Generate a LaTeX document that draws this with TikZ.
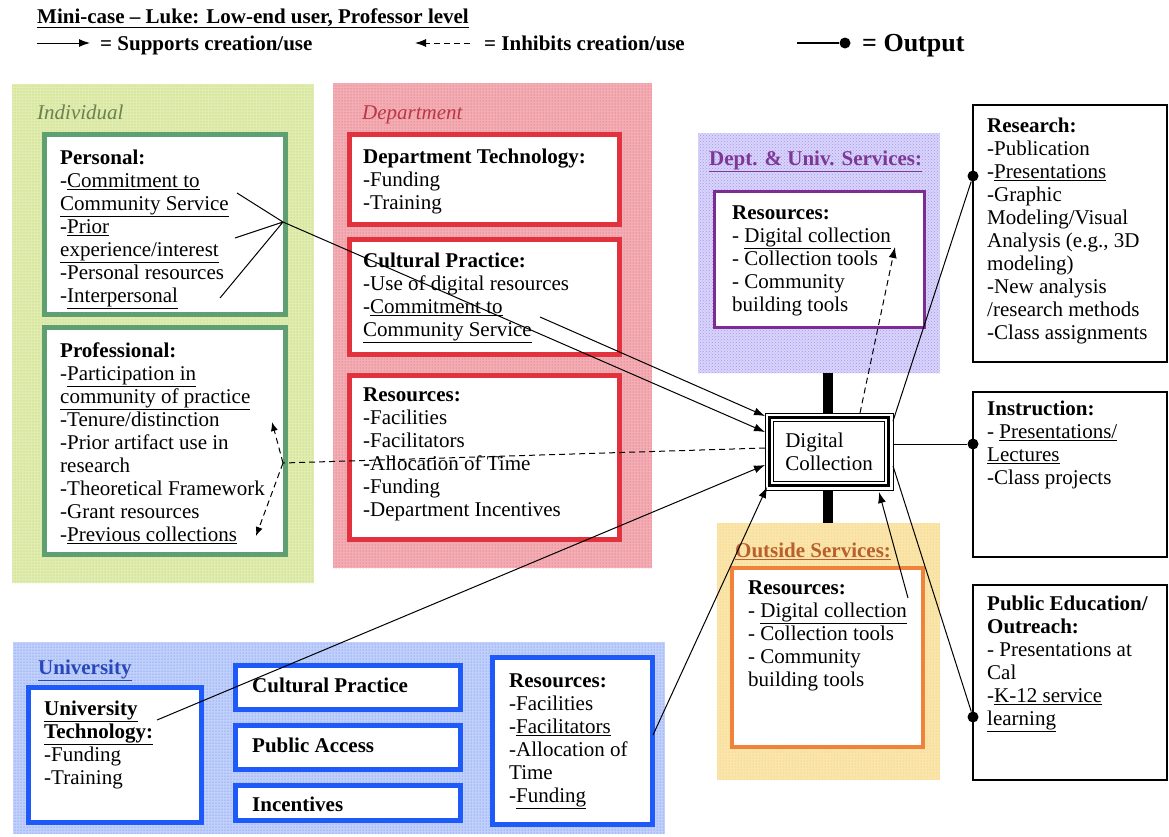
\documentclass[tikz,border=0pt]{standalone}
\usepackage{fontspec}
\setmainfont{Liberation Serif}
\usetikzlibrary{arrows.meta,patterns,calc}
\newcommand\myul[1]{\underline{#1}}
\newcommand\fl{\rule{0pt}{15pt}}
\definecolor{indbg}{RGB}{224,236,176}
\definecolor{inddot}{RGB}{175,205,80}
\definecolor{depbg}{RGB}{242,174,180}
\definecolor{depdot}{RGB}{228,80,92}
\definecolor{dubg}{RGB}{217,212,250}
\definecolor{dudot}{RGB}{165,150,240}
\definecolor{outbg}{RGB}{250,230,172}
\definecolor{outdot}{RGB}{245,195,80}
\definecolor{unibg}{RGB}{192,208,250}
\definecolor{unidot}{RGB}{80,125,240}
\definecolor{gline}{RGB}{95,160,115}
\definecolor{rline}{RGB}{225,50,62}
\definecolor{pline}{RGB}{125,45,145}
\definecolor{oline}{RGB}{240,130,60}
\definecolor{bline}{RGB}{30,90,250}
\definecolor{indlab}{RGB}{105,130,80}
\definecolor{deplab}{RGB}{185,55,70}
\definecolor{dulab}{RGB}{125,55,150}
\definecolor{outlab}{RGB}{185,95,45}
\definecolor{unilab}{RGB}{40,72,185}
\tikzset{
 region/.style={anchor=north west, inner sep=0pt, outer sep=0pt},
 bx/.style={draw, anchor=north west, inner sep=0pt, outer sep=0pt, fill=white},
 txt/.style={anchor=base west, align=left, inner sep=0pt, font=\fontsize{21}{23}\selectfont},
 mtxt/.style={anchor=north west, align=left, inner sep=0pt, font=\fontsize{21}{23}\selectfont},
 arr/.style={-{Latex[length=11pt,width=8pt]}, line width=1pt},
 inh/.style={dash pattern=on 6pt off 4pt, line width=1pt},
 smallarr/.style={-{Latex[length=9pt,width=7pt]}},
 outdot/.style={circle, fill=black, inner sep=0pt, minimum size=11pt},
}
\begin{document}
\begin{tikzpicture}[x=1pt,y=-1pt]
\useasboundingbox (0,0) rectangle (1169,836);
\fill[white] (0,0) rectangle (1169,836);

% ---------- header ----------
\node[txt] (title) at (37,23) {\myul{\textbf{Mini-case – Luke: Low-end user, Professor level}}};
\coordinate (la1) at (37,43); \coordinate (la2) at (90,43);
\draw[arr] (la1) -- (la2);
\node[txt] (lsup) at (100,50) {\textbf{= Supports creation/use}};
\coordinate (li1) at (470,43); \coordinate (li2) at (415,43);
\draw[inh,-{Latex[length=11pt,width=8pt]}] (li1) -- (li2);
\node[txt] (linh) at (484,50) {\textbf{= Inhibits creation/use}};
\coordinate (lo1) at (797,43);
\node[outdot] (lodot) at (845,43) {};
\draw[line width=1.2pt] (lo1) -- (lodot);
\node[txt, font=\fontsize{26}{28}\selectfont] (lout) at (862,51) {\textbf{= Output}};

% ---------- regions ----------
\node[region, fill=indbg, minimum width=302pt, minimum height=499pt] (indreg) at (12,84) {};
\fill[pattern=dots, pattern color=inddot] (indreg.north west) rectangle (indreg.south east);
\node[region, fill=depbg, minimum width=319pt, minimum height=485pt] (depreg) at (333,83) {};
\fill[pattern=dots, pattern color=depdot] (depreg.north west) rectangle (depreg.south east);
\node[region, fill=dubg, minimum width=242pt, minimum height=240pt] (dureg) at (698,133) {};
\fill[pattern=crosshatch dots, pattern color=dudot] (dureg.north west) rectangle (dureg.south east);
\node[region, fill=outbg, minimum width=223pt, minimum height=257pt] (outreg) at (717,523) {};
\fill[pattern=dots, pattern color=outdot] (outreg.north west) rectangle (outreg.south east);
\node[region, fill=unibg, minimum width=652pt, minimum height=192pt] (unireg) at (13,642) {};
\fill[pattern=dots, pattern color=unidot] (unireg.north west) rectangle (unireg.south east);

% region labels
\node[txt, text=indlab] (indlab) at (37,119) {\textit{Individual}};
\node[txt, text=deplab] (deplab) at (362,119) {\textit{Department}};
\node[txt, text=dulab] (dulab) at (709,165) {\myul{\textbf{Dept. \& Univ. Services:}}};
\node[txt, text=outlab] (outlab) at (735,557) {\myul{\textbf{Outside Services:}}};
\node[txt, text=unilab] (unilab) at (38,674) {\myul{\textbf{University}}};

% ---------- Individual ----------
\node[bx, draw=gline, line width=5pt, minimum width=241pt, minimum height=180pt] (personal) at (44.5,134.5) {};
\node[mtxt] (tpersonal) at (60,149) {\fl\textbf{Personal:}\\
-\myul{Commitment to}\\
\myul{Community Service}\\
-\myul{Prior}\\
\myul{experience/interest}\\
-Personal resources\\
-\myul{Interpersonal}};
\node[bx, draw=gline, line width=5pt, minimum width=241pt, minimum height=227pt] (prof) at (44.5,327.5) {};
\node[mtxt] (tprof) at (60,342) {\fl\textbf{Professional:}\\
-\myul{Participation in}\\
\myul{community of practice}\\
-Tenure/distinction\\
-Prior artifact use in\\
research\\
-Theoretical Framework\\
-Grant resources\\
-\myul{Previous collections}};

% ---------- Department ----------
\node[bx, draw=rline, line width=5pt, minimum width=270pt, minimum height=90pt] (dtech) at (349.5,134.5) {};
\node[mtxt] (tdtech) at (363,148) {\fl\textbf{Department Technology:}\\
-Funding\\
-Training};
\node[bx, draw=rline, line width=5pt, minimum width=270pt, minimum height=115pt] (dcult) at (349.5,239.5) {};
\node[mtxt] (tdcult) at (363,252) {\fl\textbf{Cultural Practice:}\\
-Use of digital resources\\
-\myul{Commitment to}\\
\myul{Community Service}};
\node[bx, draw=rline, line width=5pt, minimum width=270pt, minimum height=164pt] (dres) at (349.5,375.5) {};
\node[mtxt] (tdres) at (363,386) {\fl\textbf{Resources:}\\
-Facilities\\
-Facilitators\\
-Allocation of Time\\
-Funding\\
-Department Incentives};

% ---------- Dept & Univ services ----------
\node[bx, draw=pline, line width=3pt, minimum width=210pt, minimum height=136pt] (dures) at (714.5,191.5) {};
\node[mtxt] (tdures) at (732,204) {\fl\textbf{Resources:}\\
- \myul{Digital collection}\\
- Collection tools\\
- Community\\
building tools};

% ---------- Outside services ----------
\node[bx, draw=oline, line width=4pt, minimum width=191pt, minimum height=179pt] (outres) at (732,568) {};
\node[mtxt] (toutres) at (748,579) {\fl\textbf{Resources:}\\
- \myul{Digital collection}\\
- Collection tools\\
- Community\\
building tools};

% ---------- University ----------
\node[bx, draw=bline, line width=5pt, minimum width=173pt, minimum height=135pt] (utech) at (28.5,687.5) {};
\node[mtxt] (tutech) at (44,700) {\fl\myul{\textbf{University}}\\
\myul{\textbf{Technology:}}\\
-Funding\\
-Training};
\node[bx, draw=bline, line width=5pt, minimum width=225pt, minimum height=44pt] (ucult) at (235.5,665.5) {};
\node[txt] (tucult) at (252,692) {\textbf{Cultural Practice}};
\node[bx, draw=bline, line width=5pt, minimum width=225pt, minimum height=44pt] (upub) at (235.5,725.5) {};
\node[txt] (tupub) at (252,752) {\textbf{Public Access}};
\node[bx, draw=bline, line width=5pt, minimum width=225pt, minimum height=35pt] (uinc) at (235.5,785.5) {};
\node[txt] (tuinc) at (252,811) {\textbf{Incentives}};
\node[bx, draw=bline, line width=5pt, minimum width=160pt, minimum height=167pt] (ures) at (492.5,657.5) {};
\node[mtxt] (tures) at (509,672) {\fl\textbf{Resources:}\\
-Facilities\\
-\myul{Facilitators}\\
-Allocation of\\
Time\\
-\myul{Funding}};

% ---------- Outputs ----------
\node[bx, draw=black, line width=1.5pt, minimum width=194pt, minimum height=257pt] (research) at (973,105) {};
\node[mtxt] (tresearch) at (987,117) {\fl\textbf{Research:}\\
-Publication\\
-\myul{Presentations}\\
-Graphic\\
Modeling/Visual\\
Analysis (e.g., 3D\\
modeling)\\
-New analysis\\
/research methods\\
-Class assignments};
\node[bx, draw=black, line width=1.5pt, minimum width=194pt, minimum height=165pt] (instr) at (973,392) {};
\node[mtxt] (tinstr) at (987,400) {\fl\textbf{Instruction:}\\
- \myul{Presentations/}\\
\myul{Lectures}\\
-Class projects};
\node[bx, draw=black, line width=1.5pt, minimum width=194pt, minimum height=195pt] (pubed) at (973,585) {};
\node[mtxt] (tpubed) at (987,595) {\fl\textbf{Public Education/}\\
\textbf{Outreach:}\\
- Presentations at\\
Cal\\
-\myul{K-12 service}\\
\myul{learning}};

% ---------- Digital collection ----------
\draw[line width=10pt] (828,373) -- (828,413);
\draw[line width=10pt] (828,490) -- (828,523);
\node[bx, draw=black, line width=1pt, minimum width=128pt, minimum height=77pt, align=left,
      font=\fontsize{21}{23}\selectfont] (dc) at (765,413) {Digital\\Collection};
\draw[line width=3.5pt] ($(dc.north west)+(4.5,4.5)$) rectangle ($(dc.south east)+(-4.5,-4.5)$);
\draw[line width=1pt] ($(dc.north west)+(8.5,8.5)$) rectangle ($(dc.south east)+(-8.5,-8.5)$);

% ---------- connectors ----------
\coordinate (p1) at (237,193);
\coordinate (p2) at (235,238);
\coordinate (p3) at (220,298);
\coordinate (pm) at (283,222);
\draw[line width=1pt] (p1) -- (pm) (p2) -- (pm) (p3) -- (pm);
\coordinate (in1) at (765,416);
\coordinate (in2) at (765,432);
\coordinate (in3) at (765,448);
\coordinate (in4) at (765,465);
\coordinate (in5) at (767,487);
\draw[arr] (pm) -- (in2);
\coordinate (c1) at (540,317);
\draw[arr] (c1) -- (in1);
% professional (inhibits)
\coordinate (qm) at (283,463);
\coordinate (q1) at (272,422);
\coordinate (q2) at (256,536);
\draw[inh] (in3) -- (qm);
\draw[inh, smallarr] (qm) -- (q1);
\draw[inh, smallarr] (qm) -- (q2);
% university
\coordinate (u1) at (157,720);
\draw[arr] (u1) -- (in4);
\coordinate (u2) at (653,735);
\draw[arr] (u2) -- (in5);
% outside services
\coordinate (o1) at (908,598);
\coordinate (ob) at (879,492);
\draw[arr] (o1) -- (ob);
% dept & univ (inhibits)
\coordinate (d1) at (860,413);
\coordinate (d2) at (895,247);
\draw[inh, -{Latex[length=11pt,width=8pt]}] (d1) -- (d2);
% outputs
\node[outdot] (dot1) at (973,176) {};
\node[outdot] (dot2) at (973,444) {};
\node[outdot] (dot3) at (973,717) {};
\coordinate (r1) at (893,421);
\coordinate (r2) at (893,444);
\coordinate (r3) at (893,466);
\draw[line width=1pt] (r1) -- (dot1);
\draw[line width=1pt] (r2) -- (dot2);
\draw[line width=1pt] (r3) -- (dot3);
\end{tikzpicture}
\end{document}
